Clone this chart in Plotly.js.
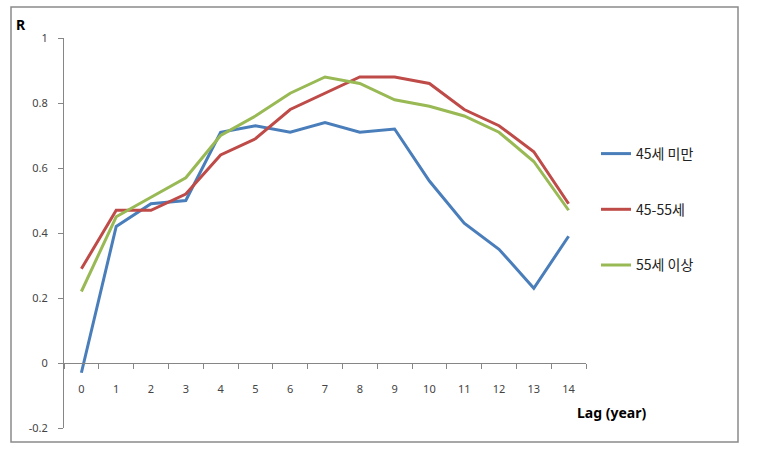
<!DOCTYPE html>
<html>
<head>
<meta charset="utf-8">
<script src="https://cdn.plot.ly/plotly-3.0.1.min.js"></script>
<style>html,body{margin:0;padding:0;background:#fff;}#chart{width:760px;height:458px;}</style>
</head>
<body>
<div id="chart"></div>
<script>
var lags = ["0","1","2","3","4","5","6","7","8","9","10","11","12","13","14"];
var under45 = [-0.03,0.42,0.49,0.50,0.71,0.73,0.71,0.74,0.71,0.72,0.56,0.43,0.35,0.23,0.39];
var age45to55 = [0.29,0.47,0.47,0.52,0.64,0.69,0.78,0.83,0.88,0.88,0.86,0.78,0.73,0.65,0.49];
var over55 = [0.22,0.45,0.51,0.57,0.70,0.76,0.83,0.88,0.86,0.81,0.79,0.76,0.71,0.62,0.47];
var seriesNames = ["45세 미만","45-55세","55세 이상"];
var seriesColors = ["#4A7EBB","#BE4B48","#98B954"];
var yTicks = [-0.2,0,0.2,0.4,0.6,0.8,1];
var yTickText = ["-0.2","0","0.2","0.4","0.6","0.8","1"];

var allSeries = [under45, age45to55, over55];
var traces = allSeries.map(function(vals, i){
  return {
    x: lags, y: vals, type: "scatter", mode: "lines",
    name: seriesNames[i], legendgroup: "g"+i,
    line: {color: seriesColors[i], width: 3}
  };
});

var L = 64, R = 586, T = 38, B = 428, W = 760, H = 458;
function px(x){ return (x - L)/(R - L); }
function py(y){ return (B - y)/(B - T); }

var layout = {
  width: W, height: H,
  margin: {l: L, r: W - R, t: T, b: H - B, pad: 0},
  paper_bgcolor: "#fff", plot_bgcolor: "#fff",
  font: {family: "Noto Sans, DejaVu Sans, sans-serif", size: 11, color: "#444"},
  showlegend: true,
  legend: {
    xref: "container", yref: "container",
    x: 596/W, y: 1 - 138/H, xanchor: "left", yanchor: "top",
    traceorder: "grouped", tracegroupgap: 34.5,
    font: {family: "Noto Sans CJK KR, Noto Sans, sans-serif", size: 14, color: "#222"},
    bgcolor: "rgba(0,0,0,0)", itemwidth: 30
  },
  xaxis: {
    type: "category", range: [-0.5, 14.5],
    anchor: "free", position: 0.2/1.2,
    showline: true, linecolor: "#868686", linewidth: 1,
    showgrid: false, zeroline: false,
    ticks: "outside", ticklen: 5, tickcolor: "#868686", tickwidth: 1,
    tickson: "boundaries", ticklabelstandoff: 16,
    tickfont: {size: 11, color: "#444"}
  },
  yaxis: {
    range: [-0.2, 1],
    showline: true, linecolor: "#868686", linewidth: 1,
    showgrid: false, zeroline: false,
    ticks: "outside", ticklen: 5, tickcolor: "#868686", tickwidth: 1,
    tickmode: "array", tickvals: yTicks, ticktext: yTickText,
    ticklabelstandoff: 8,
    tickfont: {size: 11, color: "#444"}
  },
  shapes: [
    {type: "rect", xref: "paper", yref: "paper",
     x0: px(11), x1: px(738), y0: py(442), y1: py(7),
     line: {color: "#8a8a8a", width: 1.5}, fillcolor: "rgba(0,0,0,0)"}
  ],
  annotations: [
    {text: "<b>R</b>", xref: "paper", yref: "paper", x: px(21), y: py(25),
     xanchor: "center", yanchor: "middle",
     showarrow: false, font: {family: "Noto Sans, sans-serif", size: 14, color: "#000"}},
    {text: "<b>Lag (year)</b>", xref: "paper", yref: "paper", x: px(611), y: py(412),
     xanchor: "center", yanchor: "middle",
     showarrow: false, font: {family: "Noto Sans, sans-serif", size: 14, color: "#000"}}
  ]
};

Plotly.newPlot("chart", traces, layout, {displayModeBar: false, staticPlot: true});
</script>
</body>
</html>
